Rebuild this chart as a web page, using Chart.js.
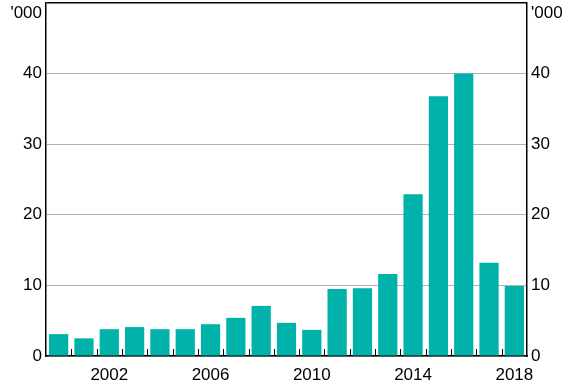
<!DOCTYPE html>
<html>
<head>
<meta charset="utf-8">
<script src="https://cdn.jsdelivr.net/npm/chart.js@4"></script>
<style>
  html, body { margin: 0; padding: 0; background: #fff; }
  #wrap { width: 576px; height: 388px; }
</style>
</head>
<body>
<div id="wrap"><canvas id="chart" width="576" height="388"></canvas></div>
<script>
// годы
const YEARS = ["2000", "2001", "2002", "2003", "2004", "2005", "2006", "2007", "2008", "2009",
  "2010", "2011", "2012", "2013", "2014", "2015", "2016", "2017", "2018"]

// значения, тыс.
const VALUES = [3.1, 2.5, 3.8, 4.1, 3.8, 3.8, 4.5, 5.4, 7.1, 4.7,
  3.7, 9.5, 9.6, 11.6, 22.9, 36.8, 40.0, 13.2, 9.9]

// подписи оси x
const X_LABELS = ["2002", "2006", "2010", "2014", "2018"]

const FONT = { family: "'Liberation Sans', Arial, sans-serif", size: 17 }


// засечки между столбцами
const innerTicks = {
  id: "innerTicks",
  afterDatasetsDraw(chart) {
    const x = chart.scales.x
    const ctx = chart.ctx
    const bottom = chart.chartArea.bottom

    ctx.save()
    ctx.strokeStyle = "#000"
    ctx.lineWidth = 1
    for (let i = 1; i < YEARS.length; i++) {
      const px = Math.round((x.getPixelForValue(i - 1) + x.getPixelForValue(i)) / 2) + 0.5
      ctx.beginPath()
      ctx.moveTo(px, bottom)
      ctx.lineTo(px, bottom - 7)
      ctx.stroke()
    }
    ctx.restore()
  },
}


// подпись делений y
function yTick(value) {
  if (value === 50) return ["", "'000"]
  return String(value)
}


// фиксируем размеры осей
function fixSize(size) {
  return function (scale) {
    if (scale.isHorizontal()) scale.height = size
    else scale.width = size
    scale.paddingTop = 0
    scale.paddingBottom = 0
    scale.paddingLeft = 0
    scale.paddingRight = 0
  }
}


new Chart(document.getElementById("chart"), {
  type: "bar",
  data: {
    labels: YEARS,
    datasets: [{
      data: VALUES,
      backgroundColor: "#00b2a9",
      barPercentage: 0.76,
      categoryPercentage: 1,
    }],
  },
  options: {
    responsive: false,
    animation: false,
    layout: { padding: { top: 3, left: 0, right: 0, bottom: 0 } },
    plugins: { legend: { display: false }, tooltip: { enabled: false } },
    scales: {
      x: {
        grid: { display: false },
        border: { display: true, color: "#000", width: 1.5 },
        ticks: {
          font: FONT,
          color: "#000",
          padding: 1,
          autoSkip: false,
          maxRotation: 0,
          callback: function (value, index) {
            const label = YEARS[index]
            return X_LABELS.includes(label) ? label : ""
          },
        },
        afterFit: fixSize(32),
      },
      y: {
        position: "left",
        min: 0,
        max: 50,
        grid: {
          drawTicks: false,
          color: function (ctx) {
            return ctx.tick && ctx.tick.value === 50 ? "#000" : "#b3b3b3"
          },
          lineWidth: function (ctx) {
            return ctx.tick && ctx.tick.value === 50 ? 1.5 : 1
          },
        },
        border: { display: true, color: "#000", width: 1.5 },
        ticks: { stepSize: 10, font: FONT, color: "#000", padding: 4, callback: yTick },
        afterFit: fixSize(46),
      },
      y2: {
        position: "right",
        min: 0,
        max: 50,
        grid: { drawOnChartArea: false, drawTicks: false },
        border: { display: true, color: "#000", width: 1.5 },
        ticks: { stepSize: 10, font: FONT, color: "#000", padding: 4, callback: yTick },
        afterFit: fixSize(49),
      },
    },
  },
  plugins: [innerTicks],
})
</script>
</body>
</html>
